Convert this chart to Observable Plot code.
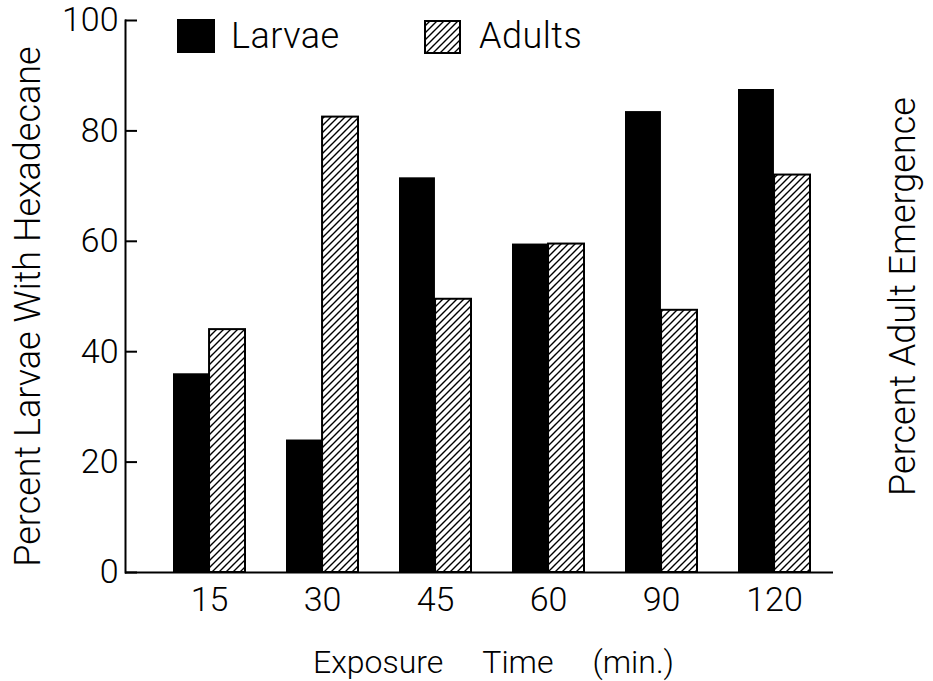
<!DOCTYPE html>
<html><head><meta charset="utf-8">
<script src="https://cdn.jsdelivr.net/npm/d3@7"></script>
<script src="https://cdn.jsdelivr.net/npm/@observablehq/plot@0.6"></script>
<style>
body{margin:0;background:#fff;}
#wrap{position:relative;width:933px;height:681px;font-family:Roboto,sans-serif;font-weight:300;color:#000;}
.leg{position:absolute;}
.legtxt{position:absolute;font-size:36px;line-height:36px;letter-spacing:0.5px;}
</style></head><body>
<svg width="0" height="0" style="position:absolute">
  <defs>
    <pattern id="hatch" patternUnits="userSpaceOnUse" width="7" height="7">
      <rect width="7" height="7" fill="white"/>
      <path d="M-1,1 l2,-2 M0,7 l7,-7 M6,8 l2,-2" stroke="black" stroke-width="1.4"/>
    </pattern>
  </defs>
</svg>
<div id="wrap"></div>
<script>
const times = ["15", "30", "45", "60", "90", "120"];
const larvae = [36, 24, 71.5, 59.5, 83.5, 87.5];
const adults = [44, 82.5, 49.5, 59.5, 47.5, 72];
const yTicks = [0, 20, 40, 60, 80, 100];
const seriesNames = ["Larvae", "Adults"];
const xLabel = "Exposure\u00a0\u00a0\u00a0\u00a0\u00a0Time\u00a0\u00a0\u00a0\u00a0\u00a0(min.)";
const yLabelLeft = "Percent Larvae With Hexadecane";
const yLabelRight = "Percent Adult Emergence";

const larvaeData = times.map((t, i) => ({time: t, value: larvae[i]}));
const adultsData = times.map((t, i) => ({time: t, value: adults[i]}));

const W = 933, H = 681, mL = 125, mR = 100, mT = 20, mB = 109;
const xRange = [171, 811];
const padIn = 0.365;
const half = d3.scaleBand().domain(times).range(xRange).paddingInner(padIn).paddingOuter(0).bandwidth() / 2;
const tickLen = 12;

const chart = Plot.plot({
  width: W,
  height: H,
  marginTop: mT,
  marginLeft: mL,
  marginRight: mR,
  marginBottom: mB,
  style: {fontFamily: "Roboto, sans-serif", fontWeight: 300, fontSize: "34px", background: "white", color: "black"},
  x: {type: "band", domain: times, range: xRange, paddingInner: padIn, paddingOuter: 0, axis: null},
  y: {domain: [0, 100], axis: null},
  marks: [
    Plot.barY(larvaeData, {x: "time", y: "value", fill: "black", insetRight: half}),
    Plot.barY(adultsData, {x: "time", y: "value", fill: "url(#hatch)", stroke: "black", strokeWidth: 2, insetLeft: half}),
    Plot.ruleY([0], {stroke: "black", strokeWidth: 2}),
    Plot.frame({anchor: "left", stroke: "black", strokeWidth: 2}),
    Plot.tickY(yTicks, {y: d => d, stroke: "black", strokeWidth: 2, insetRight: W - mL - mR - tickLen}),
    Plot.axisY({ticks: yTicks, tickSize: 0, tickPadding: 7, label: null, fontSize: 34}),
    Plot.axisX({tickSize: 0, tickPadding: 14, label: null, fontSize: 34}),
    Plot.text([yLabelLeft], {text: d => d, frameAnchor: "left", textAnchor: "middle", lineAnchor: "middle", rotate: -90, dx: -97, dy: 10, fontSize: 36}),
    Plot.text([yLabelRight], {text: d => d, frameAnchor: "right", textAnchor: "middle", lineAnchor: "middle", rotate: -90, dx: 70, fontSize: 36}),
    Plot.text([xLabel], {text: d => d, frameAnchor: "bottom", textAnchor: "middle", lineAnchor: "middle", dx: 14, dy: 90, fontSize: 32})
  ]
});

const wrap = document.getElementById("wrap");
wrap.appendChild(chart);

// legend overlay
const leg = document.createElement("div");
leg.innerHTML = `
  <div class="leg" style="left:177px;top:19px;width:38px;height:34px;background:black"></div>
  <div class="legtxt" style="left:231px;top:18px">${seriesNames[0]}</div>
  <svg class="leg" style="left:424px;top:20px" width="37" height="34"><rect x="1" y="1" width="35" height="32" fill="url(#hatch)" stroke="black" stroke-width="2"/></svg>
  <div class="legtxt" style="left:479px;top:18px">${seriesNames[1]}</div>`;
wrap.appendChild(leg);
</script>
</body></html>
